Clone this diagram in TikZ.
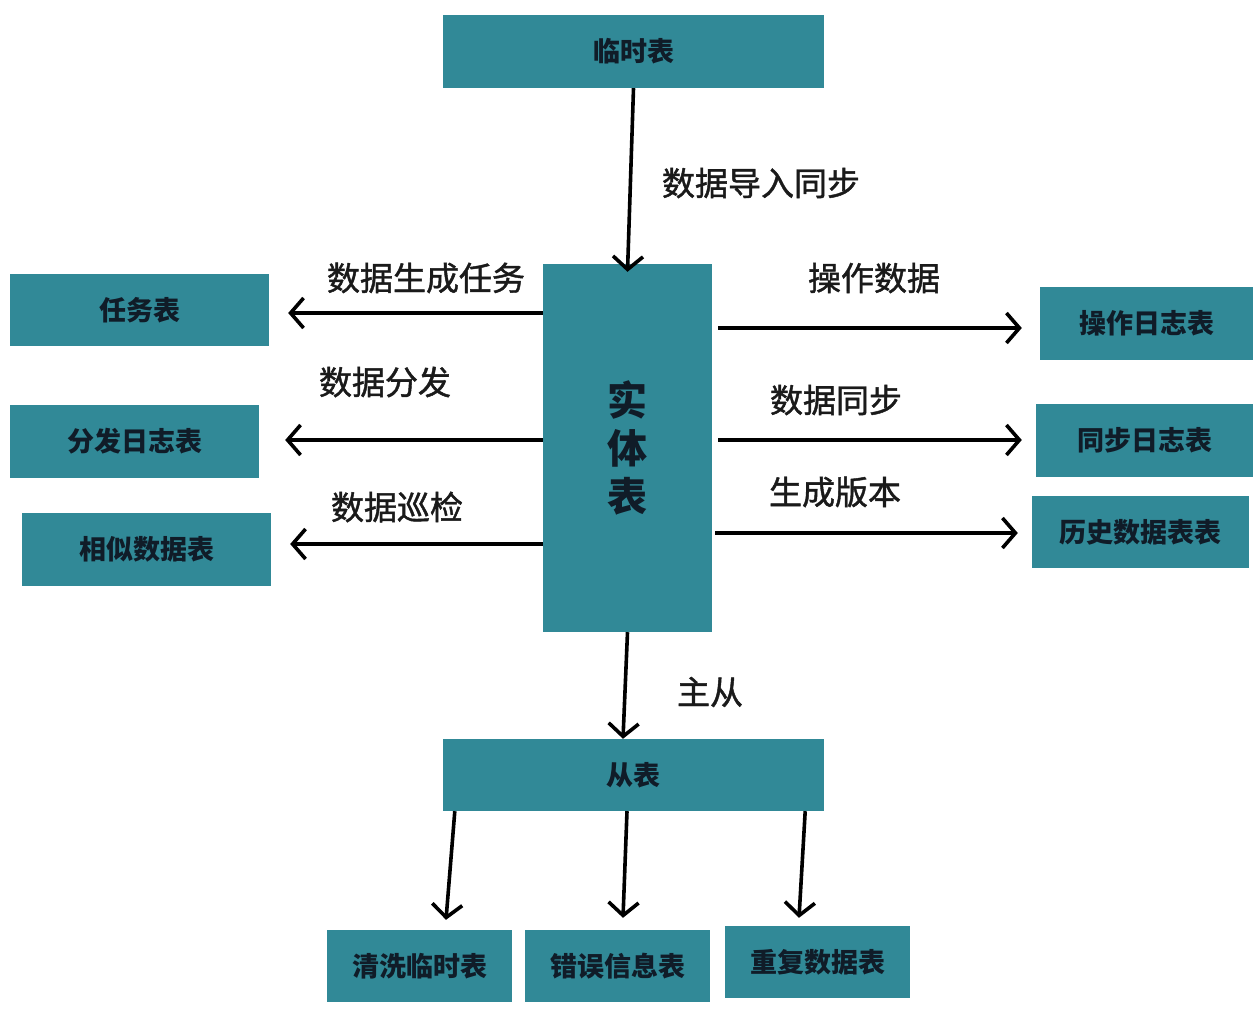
\documentclass[tikz,border=0pt]{standalone}
\usepackage{fontspec}
\newfontfamily\cjk{Noto Sans CJK SC}
\newfontfamily\cjkm[FakeBold=1.3]{Noto Sans CJK SC}
\usetikzlibrary{arrows.meta}
\definecolor{tealbox}{RGB}{49,137,151}
\definecolor{boxtxt}{RGB}{16,28,40}
\definecolor{lbltxt}{RGB}{26,26,26}
\tikzset{
  tbl/.style={draw=none, fill=tealbox, inner sep=0pt, text=boxtxt,
    font=\cjk\bfseries\fontsize{27}{31}\selectfont},
  lbl/.style={inner sep=0pt, text=lbltxt, font=\cjkm\fontsize{33}{38}\selectfont},
  arr/.style={line width=3.6pt, draw=black, -{Straight Barb[length=13pt,width=30pt]}}
}
\begin{document}
\begin{tikzpicture}[x=1pt,y=-1pt]
\useasboundingbox[fill=white] (0,0) rectangle (1258,1028);

% nodes
\node[tbl, minimum width=381pt, minimum height=73pt] (tmp) at (633.5,51.5) {临时表};
\node[tbl, minimum width=169pt, minimum height=368pt, align=center,
      font=\cjk\bfseries\fontsize{40}{48}\selectfont] (ent) at (627.5,448) {实\\体\\表};
\node[tbl, minimum width=259pt, minimum height=72pt] (task) at (139.5,310) {任务表};
\node[tbl, minimum width=249pt, minimum height=73pt] (dist) at (134.5,441.5) {分发日志表};
\node[tbl, minimum width=249pt, minimum height=73pt] (sim) at (146.5,549.5) {相似数据表};
\node[tbl, minimum width=213pt, minimum height=73pt] (oplog) at (1146.5,323.5) {操作日志表};
\node[tbl, minimum width=217pt, minimum height=73pt] (synclog) at (1144.5,440.5) {同步日志表};
\node[tbl, minimum width=217pt, minimum height=72pt] (hist) at (1140.5,532) {历史数据表表};
\node[tbl, minimum width=381pt, minimum height=72pt] (slave) at (633.5,775) {从表};
\node[tbl, minimum width=185pt, minimum height=72pt] (clean) at (419.5,966) {清洗临时表};
\node[tbl, minimum width=185pt, minimum height=72pt] (err) at (617.5,966) {错误信息表};
\node[tbl, minimum width=185pt, minimum height=72pt] (dup) at (817.5,962) {重复数据表};

% labels
\node[lbl] (l1) at (761,183) {数据导入同步};
\node[lbl] (l2) at (426,278) {数据生成任务};
\node[lbl] (l3) at (385,382) {数据分发};
\node[lbl] (l4) at (397,507) {数据巡检};
\node[lbl] (l5) at (874,278) {操作数据};
\node[lbl] (l6) at (836,400) {数据同步};
\node[lbl] (l7) at (835,492) {生成版本};
\node[lbl] (l8) at (710,692) {主从};

% arrow end points
\path (task.east) ++(19,3) coordinate (t1);
\path (dist.east) ++(26,-1.5) coordinate (t2);
\path (sim.east) ++(19,-5.5) coordinate (t3);
\path (oplog.west) ++(-18,4.5) coordinate (t4);
\path (synclog.west) ++(-14,-0.5) coordinate (t5);
\path (hist.west) ++(-14,1) coordinate (t6);
\path (ent.east |- t4) ++(6,0) coordinate (s4);
\path (ent.east |- t5) ++(6,0) coordinate (s5);
\path (ent.east |- t6) ++(3,0) coordinate (s6);

% connectors
\draw[arr] (tmp.south) -- ([yshift=-8pt]ent.north);
\draw[arr] (ent.west |- t1) -- (t1);
\draw[arr] (ent.west |- t2) -- (t2);
\draw[arr] (ent.west |- t3) -- (t3);
\draw[arr] (s4) -- (t4);
\draw[arr] (s5) -- (t5);
\draw[arr] (s6) -- (t6);
\draw[arr] (ent.south) -- ([xshift=-10.5pt]slave.north);
\draw[arr] ([xshift=12pt]slave.south west) -- ([shift={(26.5,-10)}]clean.north);
\draw[arr] ([xshift=-6.5pt]slave.south) -- ([shift={(5.5,-12)}]err.north);
\draw[arr] ([xshift=-19pt]slave.south east) -- ([shift={(-18.5,-8)}]dup.north);
\end{tikzpicture}
\end{document}
